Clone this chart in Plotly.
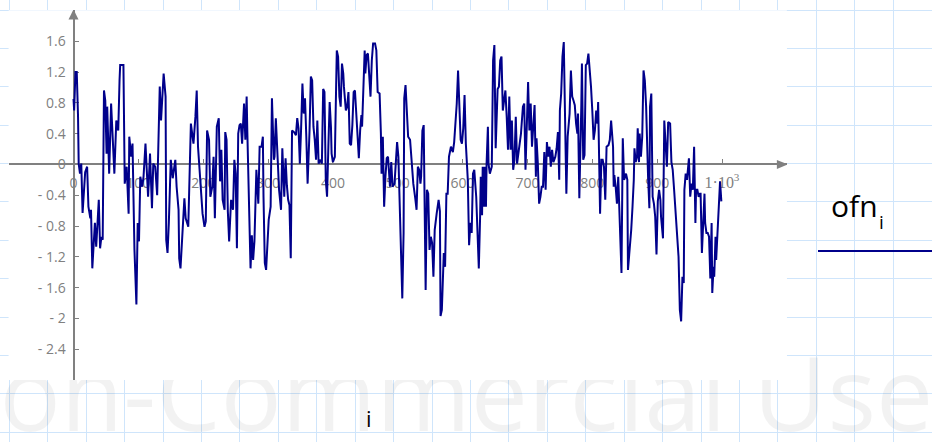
import plotly.graph_objects as go

# ---------------- data ----------------
idx = [0, 1, 3, 5, 7, 8, 10, 12, 14, 16, 18, 21, 23, 26, 27, 29, 31, 33, 35, 39, 41, 43, 45, 47, 49, 51, 52, 55, 58, 61,
       63, 66, 69, 71, 72, 77, 78, 79, 82, 85, 86, 89, 91, 94, 97, 99, 101, 103, 106, 108, 111, 115, 118, 121, 123, 126,
       129, 131, 133, 135, 139, 142, 143, 145, 147, 150, 153, 157, 159, 162, 163, 165, 167, 171, 173, 177, 181, 185, 188,
       190, 192, 199, 202,
       204, 206, 209, 211, 214, 216, 218, 221, 224, 226, 228, 230, 233, 234, 236, 238, 240, 243, 246, 248, 250, 252, 254,
       256, 258, 260, 263, 265, 267, 268, 270, 271, 273, 275, 277, 279, 282, 285, 287, 290, 292, 293, 295, 297, 299, 301,
       304, 306, 309, 310, 312, 315, 317, 320, 322, 325, 327, 329, 331, 333, 335, 337, 340, 343, 345, 347, 349, 351, 353,
       355, 357, 359, 361, 364, 366, 368, 370, 372, 374, 376, 378, 381, 383, 385, 387, 389, 391, 393, 395, 397, 398, 400,
       403, 406, 408, 410, 412, 414, 416,
       417, 420, 422, 424, 426, 428, 430, 432, 434, 436, 438, 440, 442, 444, 445, 447, 449, 450, 452, 454, 456, 458, 460,
       462, 465, 467, 469, 472, 474, 475, 477, 479, 481, 483, 485, 487, 488, 490, 492, 495, 497, 499, 501, 503, 505, 507,
       509, 510, 512, 514, 516, 519, 522, 524, 527, 529, 531, 533, 535, 536, 538, 540, 543, 545, 547, 549, 551, 553, 555,
       557, 560, 563, 565, 566, 568, 571, 573, 575, 577, 579, 582, 585, 587, 589, 591, 593, 595, 597, 599, 601, 603, 605,
       608, 610, 612, 614, 616, 618, 621, 624,
       625, 627, 628, 630, 631, 633, 634, 636, 637, 639, 640, 642, 644, 645, 647, 649, 651, 653, 654, 656, 658, 660, 662,
       664, 666, 668, 670, 672, 674, 676, 678, 680, 682, 684, 686, 688, 690, 693, 695, 697, 699, 701, 703, 705, 707, 709,
       711, 713, 714, 716, 718, 720, 722, 724, 726, 728, 730, 732, 734, 736, 738, 740, 743, 745, 747, 749, 750, 752, 754,
       756, 758, 760, 762, 765, 767, 769, 771, 773, 775, 777, 778, 780, 783, 784, 786, 788, 790, 792, 794, 796, 798, 800,
       802, 804, 806, 808, 809, 812, 814, 816, 818, 820, 822, 825, 827, 829,
       832, 833, 834, 836, 838, 840, 841, 843, 845, 847, 849, 850, 852, 854, 855, 857, 860, 862, 864, 865, 867, 869, 870,
       872, 873, 875, 877, 879, 881, 883, 885, 886, 888, 889, 891, 893, 895, 897, 899, 901, 903, 905, 906, 908, 909, 911,
       913, 915, 917, 920, 922, 924, 926, 928, 930, 932, 933, 935, 937, 939, 941, 942, 944, 946, 948, 949, 951, 953, 955,
       957, 959, 960, 962, 964, 966, 967, 969, 971, 973, 974, 976, 978, 980, 982, 984, 985, 987, 988, 990, 991, 993, 994,
       996, 997, 999]

ofn = [0.85, 0.70, 1.20, 1.20, 0.62, 0.01, -0.12, 0.01, -0.63, -0.29, -0.10, -0.03, -0.55, -0.70, -0.59, -1.35, -1.02,
       -0.76, -1.07, -0.46, -1.09, -0.94, -0.98, 0.96, 0.83, 0.14, 0.75, -0.12, 0.79, 0.10, -0.12, 0.57, 0.44, 1.09, 1.29,
       1.29, 0.44, -0.25, -0.03, -0.64, 0.36, 0.10, 0.27, -1.11, -1.82, -0.76, -1.00, -0.16, -0.29, -0.16, 0.27, -0.42,
       0.14, -0.57, 0.01, -0.03, -0.40, 0.49, 1.01, 0.57, 1.18, 0.88, -0.98, -1.15, -0.76, 0.06, -0.18, 0.06, -0.29,
       -0.59, -1.22, -1.35, -1.02, -0.44, -0.70, -0.81, 0.53, 0.27, 0.62, 0.96, 0.23, -0.64, -0.81,
       -0.74, 0.44, 0.32, -0.42, -0.29, 0.10, -0.70, 0.49, 0.60, -0.22, 0.19, -0.46, -0.59, 0.42, 0.32, -0.61, -1.00,
       -0.46, -0.59, 0.06, -0.12, -1.09, 0.40, 0.51, 0.53, 0.27, 0.79, 0.32, 0.88, 0.44, -0.46, -0.83, -1.35, -0.92,
       -1.24, -1.00, -0.07, -0.51, 0.23, 0.23, 0.36, -0.42, -1.28, -1.37, -0.98, -0.72, -0.55, 0.86, 0.06, 0.10, 0.60,
       -0.12, -0.33, -0.59, 0.21, -0.42, 0.08, -0.27, -0.46, -0.53, -1.22, 0.44, 0.42, 0.38, 0.60, 0.47, 0.01, 0.47,
       1.05, 0.66, 0.86, 0.36, -0.25, 0.44, 1.14, 1.09, 0.49, 0.32, 0.06, 0.57, 0.01, 0.06, 0.01, 0.98, 0.94, -0.20,
       -0.42, 0.23, 0.81, 0.49, 0.14, 0.03, 0.10, 1.48, 1.40, 0.88, 0.75, 1.31, 1.18,
       1.01, 0.70, 0.75, 0.94, 0.27, 0.25, 0.51, 0.94, 0.96, 0.66, 0.44, 0.08, 0.44, 0.64, 0.49, 1.16, 1.48, 1.18, 1.42,
       1.44, 1.07, 0.88, 1.35, 1.57, 1.57, 1.48, 0.94, 0.92, 0.40, -0.12, 0.36, -0.55, -0.16, 0.08, 0.10, -0.20, -0.29,
       0.03, -0.29, -0.25, 0.10, 0.29, 0.10, -0.55, -0.85, -1.74, -0.89, 0.86, 1.03, 0.66, 0.36, 0.32, -0.03, -0.25,
       -0.44, -0.59, -0.03, -0.07, -0.25, -0.16, 0.44, 0.51, -1.63, -0.33, -0.38, -1.11, -0.94, -1.02, -1.46, -0.85,
       -0.64, -0.46, -0.61, -1.97, -1.89, -1.15, -1.33, -0.38, -0.38, 0.10, 0.23, 0.16, 0.29, 0.53, 0.79, 1.22, 0.75,
       0.32, 0.27, 0.47, 0.90, 0.27, -0.20, -1.05, -0.76, -0.89, -0.12, -0.07, -0.42, -1.28,
       -1.35, -0.68, -0.16, -0.66, -0.03, -0.55, -0.03, -0.55, 0.01, 0.49, 0.01, -0.12, -0.03, -0.03, 1.35, 1.55, 0.21,
       0.96, 0.98, 1.01, 1.35, 1.40, 0.70, 0.83, 0.96, 0.62, 0.19, 0.88, 0.19, 0.57, -0.07, 0.06, 0.62, 0.01, 0.14,
       0.27, 0.40, 0.75, 0.79, -0.07, 0.40, 1.07, 0.44, 0.79, 0.23, 0.49, 0.77, -0.16, 0.34, 0.01, -0.51, -0.42, -0.29,
       -0.29, 0.16, -0.33, 0.29, 0.10, 0.23, -0.03, 0.19, 0.03, 0.10, 0.21, 0.42, -0.20, 0.70, 0.92, 1.40, 1.59, 0.44,
       -0.38, 0.36, 0.66, 1.22, 0.88, 0.83, 0.77, 0.53, 0.40, 0.66, -0.44, 0.75, 1.31, 0.06, 0.12, 1.29, 1.31, 1.44,
       1.27, 1.01, 0.70, 0.32, 0.44, 0.70, 0.53, 0.81, -0.64, 0.06, 0.06, -0.03, -0.46, 0.23, 0.25, 0.32, 0.57,
       0.23, -0.29, -0.14, -0.29, -0.51, -0.16, -0.42, -0.81, -1.41, 0.34, -0.20, -0.18, -0.12, -0.20, -1.37, -1.20,
       -0.85, -0.55, -0.20, 0.21, 0.03, 0.10, 0.47, 0.03, 0.40, 0.10, 0.36, 1.22, 1.09, 0.75, 0.06, -0.16, -0.57, 0.75,
       0.92, -0.42, -0.51, -0.68, -1.17, -0.48, -0.33, -0.46, -0.68, -0.85, -0.96, 0.57, 0.23, -0.03, 0.55, 0.53, 0.03,
       -0.07, -0.31, -0.59, -0.81, -1.17, -1.20, -1.89, -2.04, -1.46, -1.54, -0.33, -0.12, -0.20, 0.08, 0.08, -0.42,
       -0.25, -0.33, 0.23, -0.76, -0.33, -0.33, -0.42, -0.38, -0.38, -1.15, -0.68, -0.38, -0.76, -0.89, -0.89, -0.94,
       -1.48, -0.76, -1.67, -1.33, -1.46, -0.94, -1.24, -0.89, -0.89, -0.51, -0.22, -0.48]

x_tickvals = [-100, 0, 100, 200, 300, 400, 500, 600, 700, 800, 900, 1000]
x_ticktext = ["", "0", "100", "200", "300", "400", "500", "600", "700", "800", "900",
              "<span style=\"font-family:'Liberation Serif';font-size:16px\">1·10<sup>3</sup></span>"]
y_tickvals = [-2.8, -2.4, -2.0, -1.6, -1.2, -0.8, -0.4, 0, 0.4, 0.8, 1.2, 1.6]
y_ticktext = ["", "- 2.4", "- 2", "- 1.6", "- 1.2", "- 0.8", "- 0.4", "0", "0.4", "0.8", "1.2", "1.6"]

# ---------------- geometry / styles ----------------
W, H = 932, 442
NAVY = "#00008b"
AXG = "#808080"
GRID = "#cfe5fb"
FONT = "Open Sans"

px_left, px_right = 8.65, 786.85
px_top, px_bottom = 10.4, 380.0
px_zero_y = 164.4
px_zero_x = 73.5

fig = go.Figure()

# watermark on the background canvas subplot
fig.add_trace(go.Scatter(
    x=[428], y=[405], mode="text", text=["Non-Commercial Use"],
    textposition="middle center",
    textfont=dict(family=FONT, size=102, color="rgba(0,0,0,0.05)"),
    hoverinfo="skip", showlegend=False, xaxis="x", yaxis="y"))

# main data
fig.add_trace(go.Scatter(
    x=idx, y=ofn, mode="lines", line=dict(color=NAVY, width=2),
    hoverinfo="skip", showlegend=False, xaxis="x2", yaxis="y2"))

fig.update_layout(
    width=W, height=H,
    margin=dict(l=0, r=0, t=0, b=0, pad=0),
    paper_bgcolor="white", plot_bgcolor="white",
    showlegend=False,
    xaxis=dict(domain=[0, 1], range=[0, W], showgrid=True, gridcolor=GRID, gridwidth=1,
               tick0=9.3, dtick=38.43, showticklabels=False, zeroline=False,
               showline=False, ticks="", fixedrange=True),
    yaxis=dict(domain=[0, 1], range=[H, 0], showgrid=True, gridcolor=GRID, gridwidth=1,
               tick0=10, dtick=38.39, showticklabels=False, zeroline=False,
               showline=False, ticks="", fixedrange=True),
    xaxis2=dict(domain=[px_left / W, px_right / W], anchor="free",
                position=(H - px_zero_y) / H, range=[-100, 1100],
                showgrid=False, zeroline=False, showline=True, linecolor=AXG, linewidth=2,
                ticks="inside", ticklen=4, tickwidth=1, tickcolor=AXG,
                tickmode="array", tickvals=x_tickvals, ticktext=x_ticktext,
                tickfont=dict(family=FONT, size=14, color=AXG), ticklabelstandoff=6,
                layer="below traces", automargin=False, fixedrange=True),
    yaxis2=dict(domain=[(H - px_bottom) / H, (H - px_top) / H], anchor="free",
                position=px_zero_x / W, range=[-2.8, 2.0],
                showgrid=False, zeroline=False, showline=True, linecolor=AXG, linewidth=2,
                ticks="inside", ticklen=4, tickwidth=1, tickcolor=AXG,
                tickmode="array", tickvals=y_tickvals, ticktext=y_ticktext,
                tickfont=dict(family=FONT, size=14, color=AXG), ticklabelstandoff=4,
                layer="below traces", automargin=False, fixedrange=True),
    shapes=[
        # white plot region
        dict(type="rect", xref="x2", yref="y2", x0=-100, x1=1100, y0=-2.8, y1=2.0,
             fillcolor="white", line=dict(width=0), layer="below"),
        # axis arrows
        dict(type="path", xref="x2", yref="y2", xsizemode="pixel", ysizemode="pixel",
             xanchor=1100, yanchor=0, path="M1,0 L-10,4.5 L-10,-4.5 Z",
             fillcolor=AXG, line=dict(width=0), layer="above"),
        dict(type="path", xref="x2", yref="y2", xsizemode="pixel", ysizemode="pixel",
             xanchor=0, yanchor=2.0, path="M0,1 L-5,-9 L5,-9 Z",
             fillcolor=AXG, line=dict(width=0), layer="above"),
        # legend line sample
        dict(type="line", xref="x", yref="y", x0=818, x1=932, y0=251, y1=251,
             line=dict(color=NAVY, width=2), layer="above"),
    ],
    annotations=[
        dict(xref="x", yref="y", x=854, y=205, text="ofn", showarrow=False,
             font=dict(family=FONT, size=30, color="black")),
        dict(xref="x", yref="y", x=881, y=222, text="i", showarrow=False,
             font=dict(family=FONT, size=19, color="black")),
        dict(xref="x", yref="y", x=369, y=418, text="i", showarrow=False,
             font=dict(family=FONT, size=22, color="black")),
    ],
)

fig.write_html(
    "out.html",
    config={"displayModeBar": False, "staticPlot": True},
    post_script="document.body.style.margin='0px';document.body.style.padding='0px';"
                "document.body.style.overflow='hidden';",
)
